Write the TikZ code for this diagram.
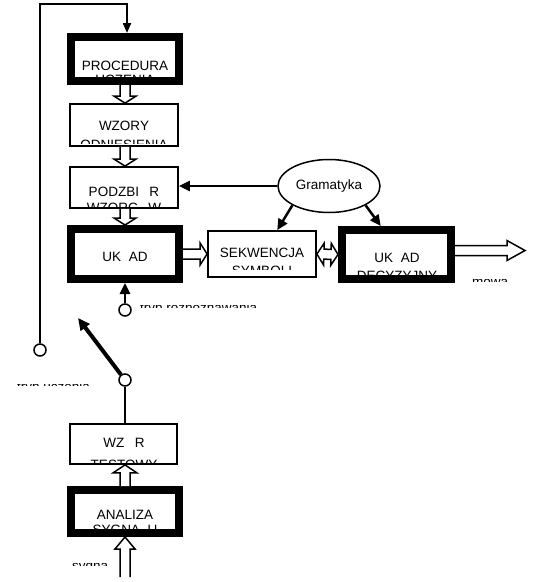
\documentclass[tikz,border=0pt]{standalone}
\usepackage{fontspec}
\setmainfont{Liberation Sans}
\usetikzlibrary{arrows.meta,calc,shapes.geometric}
\newcommand\harr[5]{%
  \coordinate (hH) at ($#2!#5pt!#1$);
  \filldraw[hollow] ($#1!#3pt!90:#2$) -- ($(hH)!#3pt!90:#2$) -- ($(hH)!#4pt!90:#2$) -- #2 -- ($(hH)!#4pt!-90:#2$) -- ($(hH)!#3pt!-90:#2$) -- ($#1!#3pt!-90:#2$);
}
\newcommand\hdarr[5]{%
  \coordinate (hA) at ($#1!#5pt!#2$);
  \coordinate (hB) at ($#2!#5pt!#1$);
  \filldraw[hollow] #1 -- ($(hA)!#4pt!90:#2$) -- ($(hA)!#3pt!90:#2$) -- ($(hB)!#3pt!90:#2$) -- ($(hB)!#4pt!90:#2$) -- #2 -- ($(hB)!#4pt!-90:#2$) -- ($(hB)!#3pt!-90:#2$) -- ($(hA)!#3pt!-90:#2$) -- ($(hA)!#4pt!-90:#2$) -- cycle;
}
\begin{document}
\begin{tikzpicture}[x=1pt,y=-1pt,
  lbl/.style={inner sep=0pt, anchor=base, font=\fontsize{13.5}{16}\selectfont},
  lblw/.style={lbl, anchor=base west},
  thickbox/.style={draw, fill=white, line width=8pt, inner sep=0pt},
  thinbox/.style={draw, fill=white, line width=1.8pt, inner sep=0pt},
  hollow/.style={fill=white, draw=black, line width=1.5pt, line join=miter},
  larr/.style={line width=2.5pt, -{Triangle[length=11pt,width=10pt]}},
  dot/.style={circle, draw, fill=white, line width=1.5pt, minimum size=12pt, inner sep=0pt}]
\useasboundingbox (0,0) rectangle (552,582);
\fill[white] (0,0) rectangle (552,582);

% boxes
\node[thickbox, minimum width=108pt, minimum height=44pt] (proc) at (125,59) {};
\node[thinbox, minimum width=108pt, minimum height=42pt] (wzory) at (124,125) {};
\node[thinbox, minimum width=108pt, minimum height=41pt] (podz) at (124,187.5) {};
\node[thickbox, minimum width=108pt, minimum height=50pt] (ukl) at (125,254) {};
\node[thinbox, minimum width=108pt, minimum height=46pt] (sekw) at (262,254) {};
\node[thickbox, minimum width=109pt, minimum height=49pt] (dec) at (396.5,254.5) {};
\node[thinbox, minimum width=107pt, minimum height=40pt] (wzor) at (123.5,444) {};
\node[thickbox, minimum width=108pt, minimum height=43pt] (ana) at (125,511.5) {};
\node[ellipse, draw, fill=white, line width=1.5pt, minimum width=102pt, minimum height=53pt, inner sep=0pt,
  font=\fontsize{13.5}{16}\selectfont] (gram) at (329,186) {Gramatyka};

% first text lines
\node[lbl] (procA) at (125,70) {PROCEDURA};
\node[lbl] (wzoryA) at (124,130.5) {WZORY};
\node[lbl] (podzA) at (124,196) {PODZBI\phantom{Ó}R};
\node[lbl] (uklA) at (125,261) {UK\phantom{Ł}AD};
\node[lbl] (sekwA) at (262,257) {SEKWENCJA};
\node[lbl] (decA) at (397,262) {UK\phantom{Ł}AD};
\node[lbl] (wzorA) at (124,447) {WZ\phantom{Ó}R};
\node[lbl] (anaA) at (125,519) {ANALIZA};

% clipped second text lines
\begin{scope}\clip (75,72) rectangle (175,77); \node[lbl] (procB) at (125,84.3) {UCZENIA};\end{scope}
\begin{scope}\clip (71,134) rectangle (177,143.3); \node[lbl] (wzoryB) at (124,149.3) {ODNIESIENIA};\end{scope}
\begin{scope}\clip (71,199) rectangle (177,206); \node[lbl] (podzB) at (124,212.3) {WZORC\phantom{Ó}W};\end{scope}
\begin{scope}\clip (209,261) rectangle (315,269); \node[lbl] (sekwB) at (262,275.3) {SYMBOLI};\end{scope}
\begin{scope}\clip (346,265) rectangle (447,275); \node[lbl] (decB) at (397,280.3) {DECYZYJNY};\end{scope}
\begin{scope}\clip (71,451) rectangle (176,462.5); \node[lbl] (wzorB) at (124,469.3) {TESTOWY};\end{scope}
\begin{scope}\clip (75,523) rectangle (175,529); \node[lbl] (anaB) at (125,534.3) {SYGNA\phantom{Ł}U};\end{scope}

% clipped labels
\begin{scope}\clip (138,305.8) rectangle (265,307); \node[lblw] (lrozp) at (140,312.5) {tryb rozpoznawania};\end{scope}
\begin{scope}\clip (15,384.3) rectangle (100,385.5); \node[lblw] (lucz) at (17,391) {tryb uczenia};\end{scope}
\begin{scope}\clip (470,279.8) rectangle (512,281); \node[lblw] (lmowa) at (472,286.5) {mowa};\end{scope}
\begin{scope}\clip (70,563.8) rectangle (112,565); \node[lblw] (lsyg) at (72,570.5) {sygna\phantom{ł}};\end{scope}

% hollow arrows
\harr{(proc.south)}{(proc.south |- wzory.north)}{5}{11}{7}
\harr{(wzory.south -| proc.south)}{(proc.south |- podz.north)}{5}{11}{7}
\harr{(podz.south -| proc.south)}{(ukl.north)}{5}{11}{7}
\harr{(ukl.east)}{(sekw.west)}{5}{11}{7}
\hdarr{(sekw.east)}{(dec.west)}{5}{11}{7}
\coordinate (out) at ($(dec.east)+(70,-4)$);
\harr{(dec.east |- out)}{(out)}{5}{10}{18}
\harr{(ana.north)}{(ana.north |- wzor.south)}{5}{12}{8}
\coordinate (in) at (125,577);
\harr{(in)}{(ana.south)}{5}{10}{12}

% circles
\node[dot] (c1) at (125,310) {};
\node[dot] (c2) at (40,350) {};
\node[dot] (c3) at (125,380) {};

% line connectors
\draw[larr] (gram.west) -- (gram.west -| podz.east);
\draw[larr] (gram.south west) -- (gram.west |- sekw.north);
\draw[larr] (gram.south east) -- (gram.east |- dec.north);
\draw[larr] (c1) -- (ukl.south);
\coordinate (tip) at (78,318);
\draw[line width=4pt, -{Triangle[length=12pt,width=11pt]}] (c3) -- (tip);
\draw[line width=2pt] (c3) -- (c3 |- wzor.north);
\coordinate (tl) at (41,4);
\coordinate (tr) at (127,4);
\draw[line width=2pt, line join=miter, -{Triangle[length=10pt,width=8pt]}] (c2) -- (c2 |- tl) -- (tr) -- (tr |- proc.north);
\end{tikzpicture}
\end{document}
